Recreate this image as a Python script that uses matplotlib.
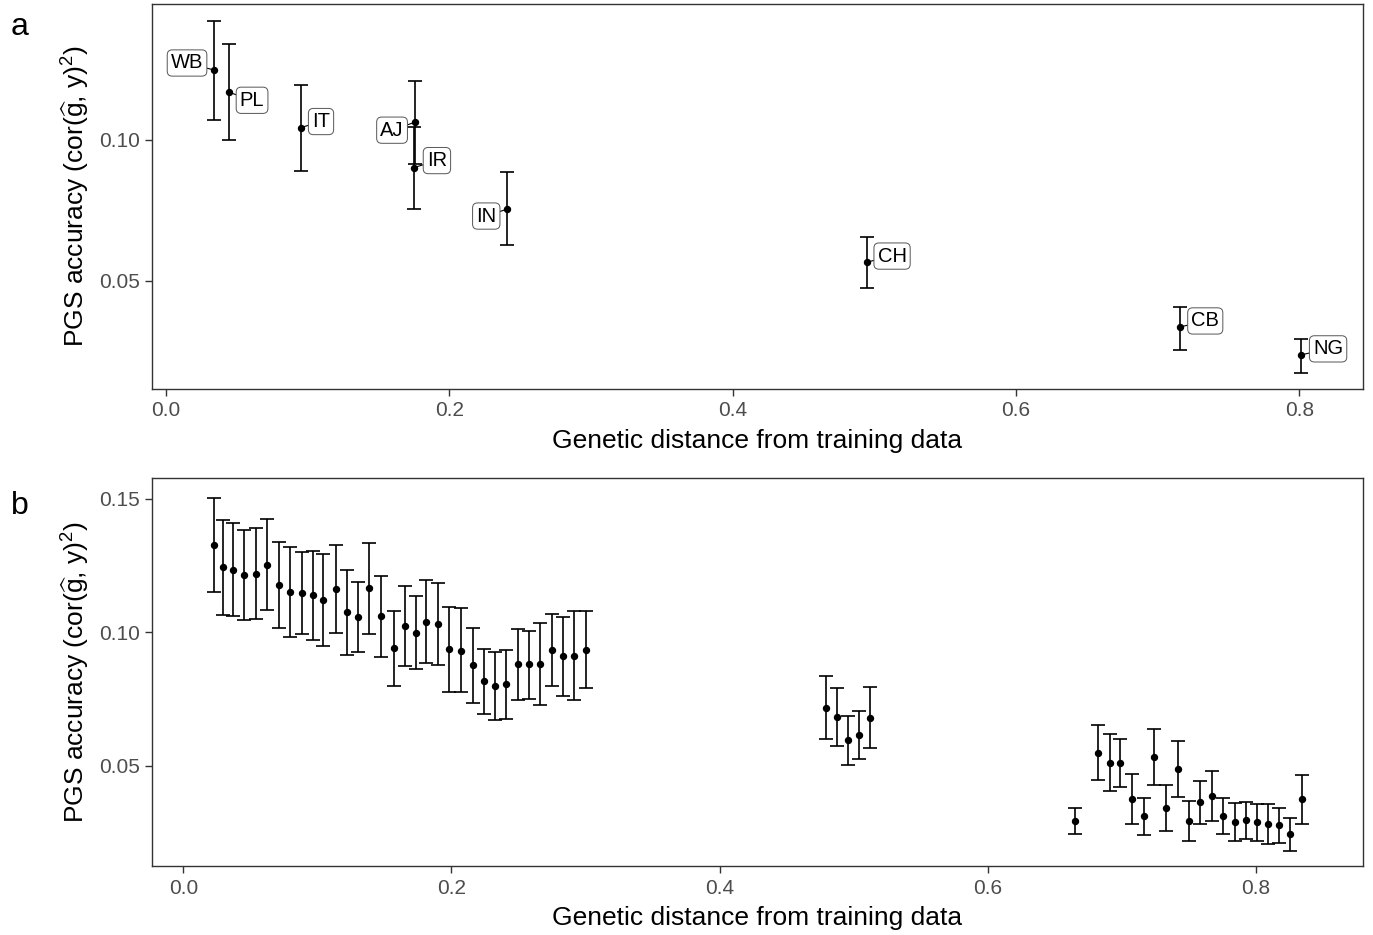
import matplotlib
matplotlib.use("Agg")
import matplotlib.pyplot as plt
import numpy as np

# ---------------- Panel a data ----------------
pop_labels = ["WB", "PL", "IT", "AJ", "IR", "IN", "CH", "CB", "NG"]
pop_dist = [0.0339, 0.0445, 0.0953, 0.1758, 0.1750, 0.2409, 0.4949, 0.7160, 0.8013]
pop_acc = [0.1248, 0.1169, 0.1044, 0.1063, 0.0902, 0.0755, 0.0567, 0.0337, 0.0238]
pop_lo = [0.1071, 0.1000, 0.0890, 0.0914, 0.0754, 0.0628, 0.0475, 0.0255, 0.0174]
pop_hi = [0.1422, 0.1340, 0.1196, 0.1210, 0.1047, 0.0887, 0.0656, 0.0408, 0.0294]

# ---------------- Panel b data ----------------
bin_dist = [0.0230, 0.0298, 0.0370, 0.0452, 0.0539, 0.0626, 0.0713, 0.0797, 0.0884, 0.0966,
            0.1043, 0.1136, 0.1222, 0.1304, 0.1386, 0.1476, 0.1568, 0.1650, 0.1732, 0.1811,
            0.1896, 0.1983, 0.2070, 0.2157, 0.2239, 0.2324, 0.2408, 0.2493, 0.2577, 0.2664,
            0.2751, 0.2831, 0.2915, 0.3000,
            0.4794, 0.4874, 0.4956, 0.5038, 0.5120,
            0.6651, 0.6825, 0.6910, 0.6990, 0.7074, 0.7163, 0.7243, 0.7332, 0.7417, 0.7501,
            0.7583, 0.7670, 0.7755, 0.7842, 0.7926, 0.8008, 0.8093, 0.8177, 0.8259, 0.8344]
bin_acc = [0.1326, 0.1243, 0.1232, 0.1215, 0.1218, 0.1252, 0.1175, 0.1150, 0.1146, 0.1139,
           0.1121, 0.1161, 0.1075, 0.1057, 0.1164, 0.1059, 0.0939, 0.1024, 0.0997, 0.1039,
           0.1029, 0.0935, 0.0931, 0.0875, 0.0815, 0.0798, 0.0805, 0.0879, 0.0879, 0.0880,
           0.0933, 0.0909, 0.0911, 0.0934,
           0.0716, 0.0682, 0.0596, 0.0613, 0.0679,
           0.0292, 0.0548, 0.0510, 0.0509, 0.0375, 0.0310, 0.0533, 0.0343, 0.0487, 0.0293,
           0.0362, 0.0387, 0.0312, 0.0290, 0.0295, 0.0288, 0.0282, 0.0276, 0.0243, 0.0374]
bin_hi = [0.1501, 0.1421, 0.1407, 0.1382, 0.1390, 0.1423, 0.1338, 0.1317, 0.1300, 0.1304,
          0.1292, 0.1326, 0.1233, 0.1188, 0.1334, 0.1211, 0.1080, 0.1172, 0.1136, 0.1196,
          0.1182, 0.1095, 0.1089, 0.1016, 0.0936, 0.0926, 0.0934, 0.1012, 0.1005, 0.1034,
          0.1067, 0.1056, 0.1080, 0.1078,
          0.0835, 0.0789, 0.0685, 0.0704, 0.0794,
          0.0340, 0.0652, 0.0617, 0.0599, 0.0469, 0.0377, 0.0638, 0.0427, 0.0591, 0.0368,
          0.0443, 0.0481, 0.0378, 0.0360, 0.0364, 0.0358, 0.0356, 0.0341, 0.0303, 0.0466]
bin_lo = [0.1150, 0.1065, 0.1060, 0.1045, 0.1048, 0.1082, 0.1014, 0.0983, 0.0993, 0.0971,
          0.0949, 0.0997, 0.0916, 0.0925, 0.0994, 0.0905, 0.0798, 0.0874, 0.0860, 0.0884,
          0.0875, 0.0776, 0.0776, 0.0735, 0.0693, 0.0670, 0.0675, 0.0745, 0.0750, 0.0727,
          0.0797, 0.0761, 0.0745, 0.0790,
          0.0598, 0.0572, 0.0504, 0.0524, 0.0566,
          0.0242, 0.0446, 0.0403, 0.0418, 0.0281, 0.0241, 0.0427, 0.0256, 0.0383, 0.0217,
          0.0281, 0.0292, 0.0243, 0.0218, 0.0224, 0.0218, 0.0207, 0.0210, 0.0182, 0.0281]

x_ticks = [0.0, 0.2, 0.4, 0.6, 0.8]
x_ticklabels = ["0.0", "0.2", "0.4", "0.6", "0.8"]
ya_ticks = [0.05, 0.10]
yb_ticks = [0.05, 0.10, 0.15]

xlabel = "Genetic distance from training data"
ylabel = r"PGS accuracy (cor($\widehat{\mathregular{g}}$, y)$^{\mathregular{2}}$)"

# label offsets in pixels (layout only)
label_offsets = [(-27, 7), (23, -8), (20, 6), (-23, -8), (23, 7), (-21, -7), (25, 6), (25, 6), (27, 6)]

plt.rcParams['font.family'] = ['Liberation Sans', 'DejaVu Sans']
plt.rcParams['mathtext.fontset'] = 'custom'
plt.rcParams['mathtext.rm'] = 'Liberation Sans'
plt.rcParams['mathtext.it'] = 'Liberation Sans'

fig = plt.figure(figsize=(13.73, 9.35), dpi=100)
W, H = 1373, 935
axa = fig.add_axes([152 / W, 1 - 389 / H, (1363 - 152) / W, (389 - 4) / H])
axb = fig.add_axes([152 / W, 1 - 866 / H, (1363 - 152) / W, (866 - 478) / H])

dark = '#333333'
err_kw = dict(fmt='o', color='black', ecolor='black', markersize=4.3, elinewidth=1.2,
              capsize=4.7, capthick=1.2, zorder=3)


def yerr(acc, lo, hi):
    a = np.array(acc); return [a - np.array(lo), np.array(hi) - a]


axa.errorbar(pop_dist, pop_acc, yerr=yerr(pop_acc, pop_lo, pop_hi), **err_kw)
for lab, xd, yd, off in zip(pop_labels, pop_dist, pop_acc, label_offsets):
    axa.annotate(lab, xy=(xd, yd), xytext=off, textcoords='offset pixels',
                 ha='center', va='center', fontsize=14.5, zorder=4,
                 bbox=dict(boxstyle='round,pad=0.18,rounding_size=0.25', fc='white', ec='#555555', lw=0.7),
                 arrowprops=dict(arrowstyle='-', color='black', lw=0.8, shrinkA=0, shrinkB=2))

axb.errorbar(bin_dist, bin_acc, yerr=yerr(bin_acc, bin_lo, bin_hi), **err_kw)

axa.set_xlim(-0.0099, 0.845)
axa.set_ylim(0.0117, 0.1482)
axb.set_xlim(-0.0234, 0.880)
axb.set_ylim(0.0124, 0.1577)
axa.set_yticks(ya_ticks)
axb.set_yticks(yb_ticks)

for ax in (axa, axb):
    ax.set_xticks(x_ticks)
    ax.set_xticklabels(x_ticklabels)
    ax.yaxis.set_major_formatter(matplotlib.ticker.FormatStrFormatter('%.2f'))
    ax.tick_params(axis='both', direction='out', length=5, width=1.0, color=dark,
                   labelsize=15, labelcolor='#4D4D4D', pad=4)
    for s in ax.spines.values():
        s.set_color(dark)
        s.set_linewidth(1.0)
    ax.set_xlabel(xlabel, fontsize=19, labelpad=6)
    ax.set_ylabel(ylabel, fontsize=19, labelpad=5)

fig.text(20 / W, 1 - 27 / H, 'a', fontsize=23, ha='center', va='center')
fig.text(20 / W, 1 - 506 / H, 'b', fontsize=23, ha='center', va='center')

fig.savefig('out.png', dpi=100)
